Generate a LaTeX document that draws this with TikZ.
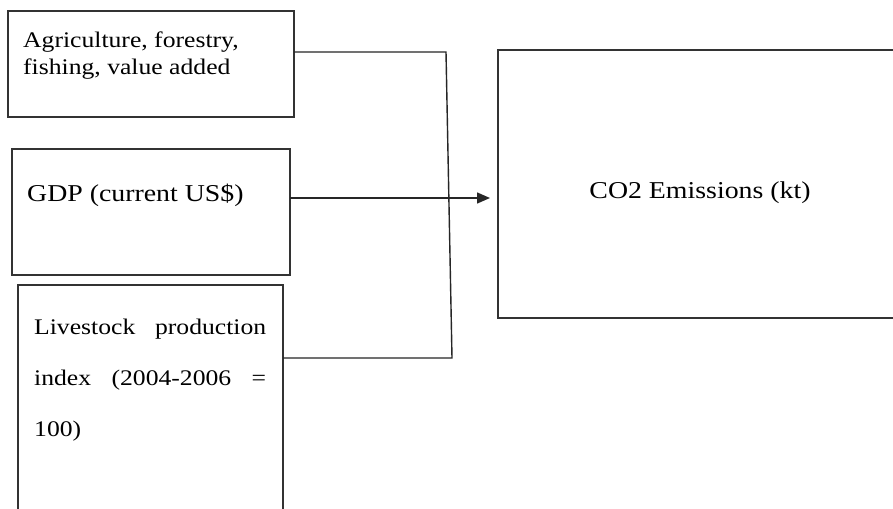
\documentclass[tikz,border=0pt]{standalone}
\usepackage{fontspec}
\setmainfont{Liberation Serif}[FakeStretch=1.15]
\usetikzlibrary{arrows.meta}
\begin{document}
\begin{tikzpicture}[x=1pt,y=-1pt,
  box/.style={draw=black!80,line width=1.3pt,inner sep=0pt,outer sep=0pt},
  lbl/.style={anchor=base west,inner sep=0pt,font=\fontsize{24.2}{28}\selectfont},
  lblsmall/.style={lbl,font=\fontsize{22.3}{26}\selectfont},
  conn/.style={draw=black!85,line width=1.4pt}]
\path[use as bounding box,clip] (0,0) rectangle (893,508);
\fill[white] (0,0) rectangle (893,508);
% boxes
\node[box,minimum width=286,minimum height=106] (b1) at (151,64) {};
\node[box,minimum width=278,minimum height=126] (b2) at (151,212) {};
\node[box,minimum width=265,minimum height=275] (b3) at (150.5,422.5) {};
\node[box,minimum width=407,minimum height=268] (b4) at (701.5,184) {};
% texts
\node[lblsmall] (t1a) at (23,48) {Agriculture, forestry,};
\node[lblsmall] (t1b) at (23,75) {fishing, value added};
\node[lbl] (t2) at (27,201) {GDP (current US\$)};
\node[lblsmall] (t3a) at (34,334) {\makebox[232pt][s]{Livestock production}};
\node[lblsmall] (t3b) at (34,385) {\makebox[232pt][s]{index (2004-2006 =}};
\node[lblsmall] (t3c) at (34,436) {100)};
\node[lbl,anchor=base] (t4) at (700,198) {CO2 Emissions (kt)};
% connectors
\coordinate (j1) at (446,52);
\coordinate (j2) at (452,358);
\coordinate (a1) at (290,198);
\draw[conn] (b1.east |- j1) -- (j1) -- (j2) -- (b3.east |- j2);
\draw[conn,-{Triangle[length=13pt,width=11pt]},shorten >=8pt] (b2.east |- a1) -- (b4.west |- a1);
\end{tikzpicture}
\end{document}
